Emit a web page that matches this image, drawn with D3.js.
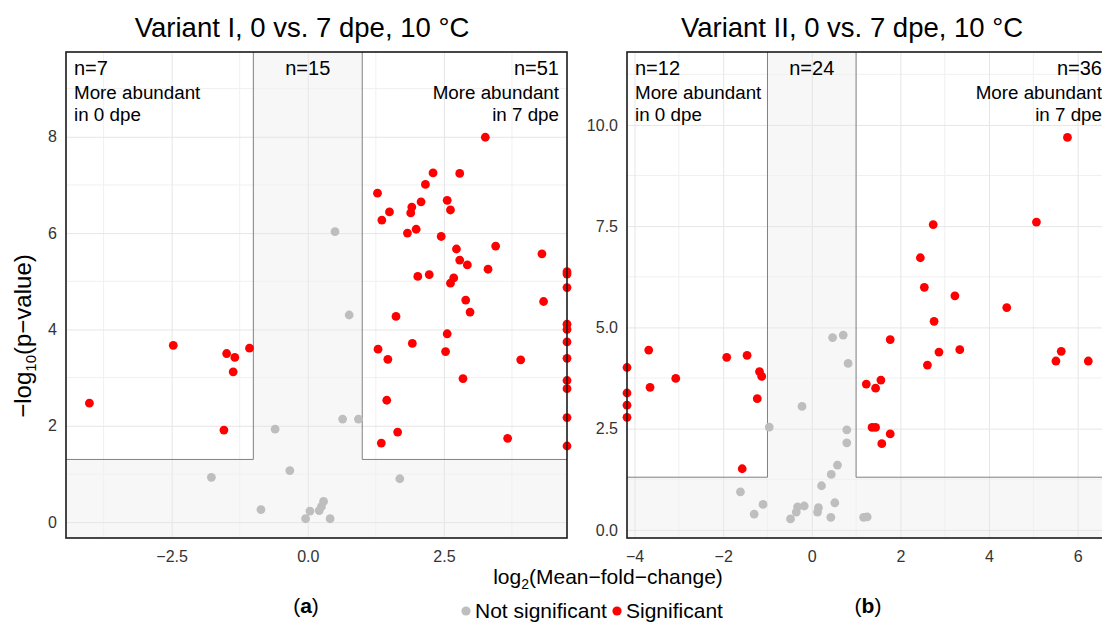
<!DOCTYPE html>
<html>
<head>
<meta charset="utf-8">
<script src="https://cdn.jsdelivr.net/npm/d3@7"></script>
<style>
  body { margin: 0; background: #fff; }
  svg { font-family: "Liberation Sans", Arial, sans-serif; display: block; }
</style>
</head>
<body>
<div id="chart"></div>
<script>
// Panel (a): Variant I — [log2 fold change, -log10 p]
const aNotSig = [
  [0.50, 6.03], [0.76, 4.30], [0.64, 2.14], [0.93, 2.14], [-0.60, 1.93],
  [-1.77, 0.93], [-0.86, 0.26], [-0.33, 1.07], [1.69, 0.90], [0.29, 0.43],
  [0.25, 0.32], [0.21, 0.24], [0.04, 0.23], [-0.04, 0.07], [0.41, 0.07]
];
const aSig = [
  [-4.01, 2.47], [-2.47, 3.67], [-1.49, 3.50], [-1.34, 3.42], [-1.37, 3.12], [-1.07, 3.61], [-1.54, 1.91],
  [3.26, 7.99], [2.30, 7.25], [2.79, 7.24], [2.16, 7.01], [1.28, 6.83], [2.56, 6.68], [2.08, 6.65],
  [1.91, 6.54], [1.89, 6.42], [2.62, 6.48], [1.50, 6.44], [1.36, 6.27], [1.83, 6.00], [1.99, 6.08],
  [2.45, 5.93], [2.73, 5.67], [3.45, 5.73], [4.30, 5.57], [2.79, 5.44], [2.93, 5.34], [3.31, 5.25],
  [4.76, 5.20], [4.76, 5.15], [4.76, 4.87], [2.02, 5.10], [2.23, 5.14], [2.68, 5.07], [2.62, 4.96],
  [1.62, 4.27], [2.90, 4.61], [2.98, 4.36], [4.33, 4.58], [4.76, 4.11], [4.76, 4.00], [4.76, 3.74],
  [4.76, 3.40], [4.76, 2.94], [4.76, 2.77], [4.76, 2.17], [4.76, 1.58], [2.56, 3.91], [1.92, 3.71],
  [1.29, 3.59], [1.47, 3.38], [2.53, 3.54], [3.91, 3.37], [2.85, 2.98], [1.45, 2.53], [1.65, 1.87],
  [1.35, 1.64], [3.67, 1.74]
];
// Panel (b): Variant II
const bNotSig = [
  [0.47, 4.75], [0.71, 4.81], [0.82, 4.11], [-0.22, 3.05], [-0.96, 2.54], [0.79, 2.47], [0.79, 2.15],
  [0.58, 1.60], [0.44, 1.37], [0.22, 1.09], [-1.61, 0.94], [-1.10, 0.63], [-1.30, 0.39], [-0.17, 0.59],
  [-0.32, 0.57], [-0.35, 0.44], [-0.48, 0.27], [0.15, 0.55], [0.13, 0.44], [0.52, 0.67], [0.43, 0.31],
  [1.17, 0.31], [1.25, 0.32]
];
const bSig = [
  [-4.17, 4.01], [-4.17, 3.38], [-4.17, 3.08], [-4.17, 2.78], [-3.68, 4.44], [-3.65, 3.52], [-3.07, 3.74],
  [-1.92, 4.26], [-1.46, 4.31], [-1.18, 3.91], [-1.13, 3.79], [-1.23, 3.24], [-1.57, 1.51],
  [5.77, 9.69], [5.07, 7.60], [2.74, 7.54], [2.45, 6.72], [2.54, 5.99], [3.23, 5.78], [4.40, 5.49],
  [2.76, 5.15], [1.77, 4.70], [2.87, 4.39], [3.34, 4.45], [2.61, 4.07], [5.63, 4.41], [5.51, 4.17],
  [6.24, 4.17], [1.56, 3.70], [1.23, 3.60], [1.44, 3.50], [1.36, 2.53], [1.44, 2.53], [1.77, 2.37],
  [1.58, 2.13]
];

const aXTicks = [-2.5, 0, 2.5];
const aYTicks = [0, 2, 4, 6, 8];
const bXTicks = [-4, -2, 0, 2, 4, 6];
const bYTicks = [0, 2.5, 5, 7.5, 10];
const aCounts = ['n=7', 'n=15', 'n=51'];
const bCounts = ['n=12', 'n=24', 'n=36'];

const FC = 1;          // fold-change threshold (log2)
const PV = 1.30103;    // -log10(0.05)
const SIG = '#ff0000', NS = '#bebebe';

const svg = d3.select('#chart').append('svg').attr('width', 1102).attr('height', 623);

function panel(opt) {
  const { x0, x1, y0, y1, xDom, yDom, xTicks, yTicks, xMinor, yMinor, xFmt, yFmt, ns, sig, counts, title, titleX, label } = opt;
  const x = d3.scaleLinear().domain(xDom).range([x0, x1]);
  const y = d3.scaleLinear().domain(yDom).range([y1, y0]);
  const g = svg.append('g');

  // background + significant boxes
  g.append('rect').attr('x', x0).attr('y', y0).attr('width', x1 - x0).attr('height', y1 - y0).attr('fill', '#f7f7f7');
  g.append('rect').attr('x', x0).attr('y', y0).attr('width', x(-FC) - x0).attr('height', y(PV) - y0).attr('fill', '#fff');
  g.append('rect').attr('x', x(FC)).attr('y', y0).attr('width', x1 - x(FC)).attr('height', y(PV) - y0).attr('fill', '#fff');

  // grid
  g.append('g').selectAll('line').data(xMinor).join('line')
    .attr('x1', d => x(d)).attr('x2', d => x(d)).attr('y1', y0).attr('y2', y1)
    .attr('stroke', '#f0f0f0').attr('stroke-width', 1);
  g.append('g').selectAll('line').data(yMinor).join('line')
    .attr('y1', d => y(d)).attr('y2', d => y(d)).attr('x1', x0).attr('x2', x1)
    .attr('stroke', '#f0f0f0').attr('stroke-width', 1);
  g.append('g').attr('transform', `translate(0,${y1})`)
    .call(d3.axisBottom(x).tickValues(xTicks).tickSize(-(y1 - y0)).tickPadding(10).tickFormat(xFmt))
    .call(s => s.select('.domain').remove())
    .call(s => s.selectAll('.tick line').attr('stroke', '#e6e6e6'))
    .call(s => s.selectAll('.tick text').attr('fill', '#333').attr('font-size', '16px').attr('font-family', null).attr('dy', '0.85em'));
  g.append('g').attr('transform', `translate(${x0},0)`)
    .call(d3.axisLeft(y).tickValues(yTicks).tickSize(-(x1 - x0)).tickPadding(9).tickFormat(yFmt))
    .call(s => s.select('.domain').remove())
    .call(s => s.selectAll('.tick line').attr('stroke', '#e6e6e6'))
    .call(s => s.selectAll('.tick text').attr('fill', '#333').attr('font-size', '16px').attr('font-family', null));

  // box outlines
  const box = d3.path();
  box.moveTo(x(-FC), y0); box.lineTo(x(-FC), y(PV)); box.lineTo(x0, y(PV));
  box.moveTo(x(FC), y0); box.lineTo(x(FC), y(PV)); box.lineTo(x1, y(PV));
  g.append('path').attr('d', box.toString()).attr('fill', 'none').attr('stroke', '#808080').attr('stroke-width', 1);

  // points
  g.append('g').selectAll('circle').data(ns).join('circle')
    .attr('cx', d => x(d[0])).attr('cy', d => y(d[1])).attr('r', 4.4).attr('fill', NS);
  g.append('g').selectAll('circle').data(sig).join('circle')
    .attr('cx', d => x(d[0])).attr('cy', d => y(d[1])).attr('r', 4.4).attr('fill', SIG);

  // panel border
  g.append('rect').attr('x', x0).attr('y', y0).attr('width', x1 - x0).attr('height', y1 - y0)
    .attr('fill', 'none').attr('stroke', '#1a1a1a').attr('stroke-width', 1.6);

  // annotations
  const t = g.append('g').attr('fill', '#000');
  t.append('text').attr('x', x0 + 8).attr('y', y0 + 23).attr('font-size', '20px').text(counts[0]);
  t.append('text').attr('x', x0 + 8).attr('y', y0 + 47).attr('font-size', '18.8px').text('More abundant');
  t.append('text').attr('x', x0 + 8).attr('y', y0 + 69).attr('font-size', '18.8px').text('in 0 dpe');
  t.append('text').attr('x', (x(-FC) + x(FC)) / 2).attr('y', y0 + 23).attr('text-anchor', 'middle').attr('font-size', '20px').text(counts[1]);
  t.append('text').attr('x', x1 - 8).attr('y', y0 + 23).attr('text-anchor', 'end').attr('font-size', '20px').text(counts[2]);
  t.append('text').attr('x', x1 - 8).attr('y', y0 + 47).attr('text-anchor', 'end').attr('font-size', '18.8px').text('More abundant');
  t.append('text').attr('x', x1 - 8).attr('y', y0 + 69).attr('text-anchor', 'end').attr('font-size', '18.8px').text('in 7 dpe');

  svg.append('text').attr('x', titleX).attr('y', 37).attr('text-anchor', 'middle')
    .attr('font-size', '27.5px').attr('fill', '#000').text(title);

  const lab = svg.append('text').attr('x', label.x).attr('y', 613).attr('text-anchor', 'middle')
    .attr('font-size', '21px').attr('fill', '#000');
  lab.append('tspan').text('(');
  lab.append('tspan').attr('font-weight', 'bold').text(label.t);
  lab.append('tspan').text(')');
}

panel({
  x0: 66, x1: 567, y0: 52, y1: 538,
  xDom: [-4.44, 4.76], yDom: [-0.33, 9.76],
  xTicks: aXTicks, yTicks: aYTicks,
  xMinor: [-3.75, -1.25, 1.25, 3.75], yMinor: [1, 3, 5, 7, 9],
  xFmt: d3.format('.1f'), yFmt: d3.format('d'),
  ns: aNotSig, sig: aSig, counts: aCounts,
  title: 'Variant I, 0 vs. 7 dpe, 10 °C', titleX: 302, label: { x: 306, t: 'a' }
});
panel({
  x0: 627, x1: 1110, y0: 52, y1: 538,
  xDom: [-4.17, 6.73], yDom: [-0.2, 11.8],
  xTicks: bXTicks, yTicks: bYTicks,
  xMinor: [-3, -1, 1, 3, 5], yMinor: [1.25, 3.75, 6.25, 8.75, 11.25],
  xFmt: d3.format('d'), yFmt: d3.format('.1f'),
  ns: bNotSig, sig: bSig, counts: bCounts,
  title: 'Variant II, 0 vs. 7 dpe, 10 °C', titleX: 852, label: { x: 868, t: 'b' }
});

// axis titles
const xt = svg.append('text').attr('x', 608).attr('y', 584).attr('text-anchor', 'middle')
  .attr('font-size', '21px').attr('fill', '#000');
xt.append('tspan').text('log');
xt.append('tspan').attr('font-size', '14px').attr('dy', '5').text('2');
xt.append('tspan').attr('dy', '-5').text('(Mean\u2212fold\u2212change)');

const yt = svg.append('text').attr('transform', 'translate(31,336) rotate(-90)').attr('text-anchor', 'middle')
  .attr('font-size', '24px').attr('fill', '#000');
yt.append('tspan').text('\u2212log');
yt.append('tspan').attr('font-size', '15px').attr('dy', '5').text('10');
yt.append('tspan').attr('dy', '-5').text('(p\u2212value)');

// legend
const legend = svg.append('g').attr('font-size', '21px');
const items = [{ label: 'Not significant', color: NS, x: 466 }, { label: 'Significant', color: SIG, x: 617 }];
items.forEach(it => {
  legend.append('circle').attr('cx', it.x).attr('cy', 611).attr('r', 4.6).attr('fill', it.color);
  legend.append('text').attr('x', it.x + 9).attr('y', 618).attr('fill', '#000').text(it.label);
});
</script>
</body>
</html>
